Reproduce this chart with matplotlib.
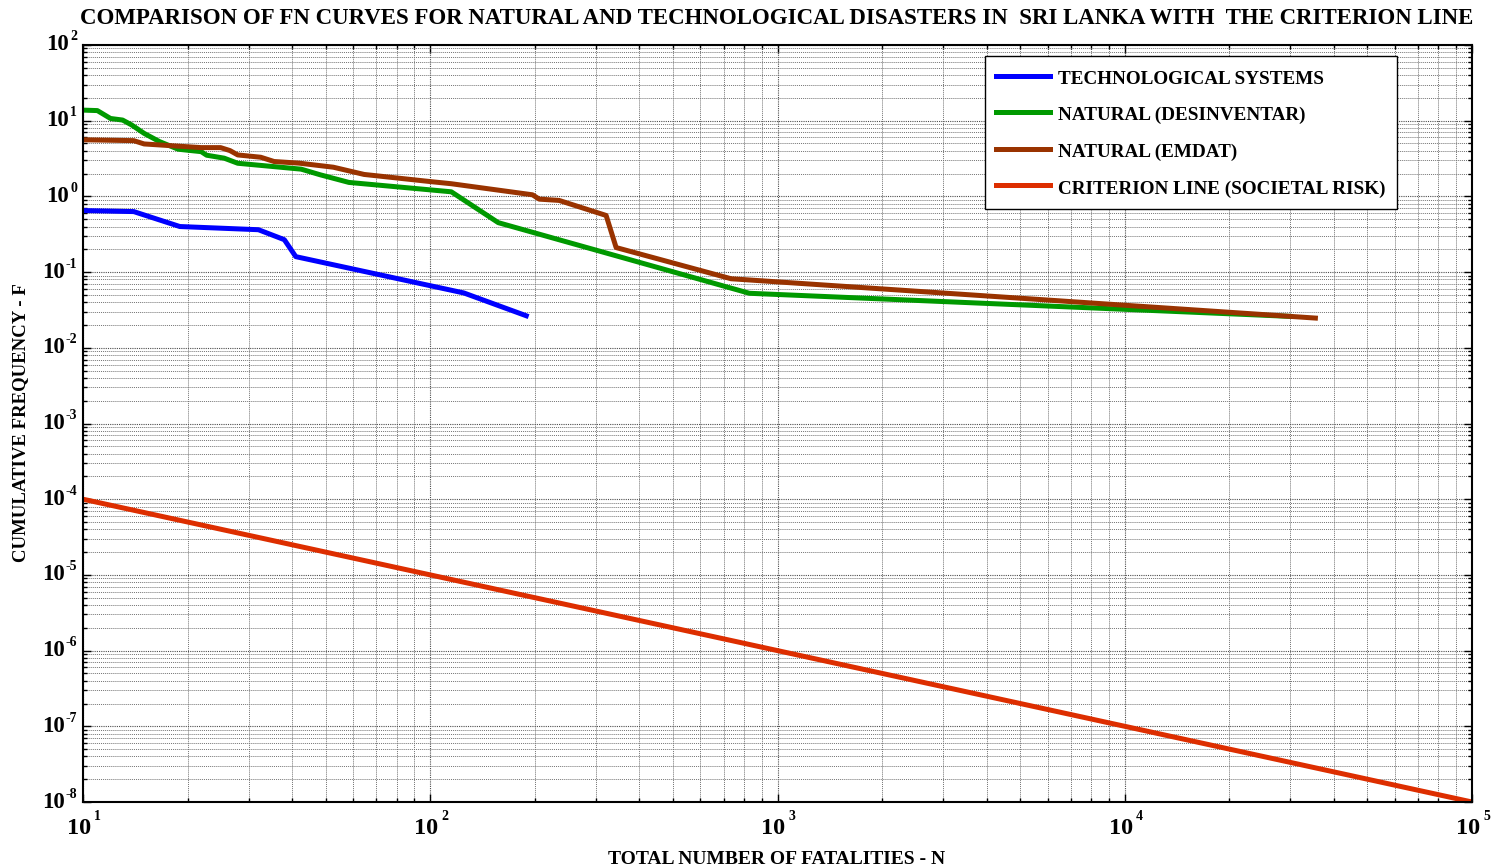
import matplotlib
matplotlib.use("Agg")
import matplotlib.pyplot as plt
from matplotlib.ticker import LogLocator, NullFormatter

plt.rcParams['font.family'] = ['Liberation Serif', 'DejaVu Serif']
plt.rcParams['font.weight'] = 'bold'

# ---- data ----
tech_N = [10, 14, 19, 32, 38, 41, 125, 189]
tech_F = [0.65, 0.63, 0.40, 0.363, 0.268, 0.16, 0.053, 0.0265]

desinv_N = [10, 11, 12, 13, 13.8, 15, 16.6, 18.8, 21.9, 22.7, 25.5, 27.9,
            42.5, 48.2, 58.3, 115, 157, 830, 30000]
desinv_F = [13.8, 13.6, 10.7, 10.2, 8.8, 6.8, 5.3, 4.2, 3.9, 3.5, 3.2, 2.74,
            2.29, 1.93, 1.53, 1.15, 0.45, 0.0525, 0.026]

emdat_N = [10, 14, 15, 21.9, 24.9, 26.5, 27.9, 32.5, 35.5, 41.9, 52.6, 64.5,
           100, 115, 197, 206, 235, 321, 343, 735, 35400]
emdat_F = [5.6, 5.45, 4.93, 4.41, 4.41, 4.03, 3.53, 3.29, 2.89, 2.75, 2.43, 1.95,
           1.57, 1.47, 1.05, 0.92, 0.885, 0.56, 0.211, 0.0817, 0.0247]

crit_N = [10, 100000]
crit_F = [1e-4, 1e-8]

x_exponents = [1, 2, 3, 4, 5]
y_exponents = [2, 1, 0, -1, -2, -3, -4, -5, -6, -7, -8]

labels = ['TECHNOLOGICAL SYSTEMS', 'NATURAL (DESINVENTAR)',
          'NATURAL (EMDAT)', 'CRITERION LINE (SOCIETAL RISK)']
colors = ['#0000FF', '#009900', '#993300', '#DD2E00']

title = 'COMPARISON OF FN CURVES FOR NATURAL AND TECHNOLOGICAL DISASTERS IN  SRI LANKA WITH  THE CRITERION LINE'
xlabel = 'TOTAL NUMBER OF FATALITIES - N'
ylabel = 'CUMULATIVE FREQUENCY - F'

fig = plt.figure(figsize=(14.99, 8.67), dpi=100)
ax = fig.add_axes([83/1499, 1-802/867, (1472-83)/1499, (802-45)/867])

lw = 3.6
ax.plot(tech_N, tech_F, color=colors[0], lw=lw, label=labels[0])
ax.plot(desinv_N, desinv_F, color=colors[1], lw=lw, label=labels[1])
ax.plot(emdat_N, emdat_F, color=colors[2], lw=lw, label=labels[2])
ax.plot(crit_N, crit_F, color=colors[3], lw=lw, label=labels[3])

ax.set_xscale('log')
ax.set_yscale('log')
ax.set_xlim(10, 1e5)
ax.set_ylim(1e-8, 1e2)

ax.xaxis.set_major_locator(LogLocator(base=10, numticks=20))
ax.yaxis.set_major_locator(LogLocator(base=10, numticks=20))
ax.xaxis.set_minor_locator(LogLocator(base=10, subs=range(2, 10), numticks=50))
ax.yaxis.set_minor_locator(LogLocator(base=10, subs=range(2, 10), numticks=50))
ax.xaxis.set_minor_formatter(NullFormatter())
ax.yaxis.set_minor_formatter(NullFormatter())

ax.grid(True, which='major', color='0.3', lw=0.8, ls=(0, (1, 1)))
ax.grid(True, which='minor', color='0.45', lw=0.7, ls=(0, (1, 1)))
ax.set_axisbelow(True)

ax.tick_params(which='both', direction='in', top=True, right=True, width=1.0,
               labelbottom=False, labelleft=False)
ax.tick_params(which='major', length=6)
ax.tick_params(which='minor', length=3)
for s in ax.spines.values():
    s.set_linewidth(1.5)

# MATLAB-style tick labels: "10" with a small raised exponent
for e in x_exponents:
    v = 10.0 ** e
    ax.annotate('10', xy=(v, 0), xycoords=('data', 'axes fraction'),
                xytext=(8, -27), textcoords='offset pixels', ha='right', va='center',
                fontsize=17.5, fontweight='bold', annotation_clip=False)
    ax.annotate(str(e), xy=(v, 0), xycoords=('data', 'axes fraction'),
                xytext=(11, -15), textcoords='offset pixels', ha='left', va='center',
                fontsize=10, fontweight='bold', annotation_clip=False)
for e in y_exponents:
    v = 10.0 ** e
    ex = ax.annotate(str(e), xy=(0, v), xycoords=('axes fraction', 'data'),
                     xytext=(-6, 8), textcoords='offset pixels', ha='right', va='center',
                     fontsize=10, fontweight='bold', annotation_clip=False)
    ax.annotate('10', xy=(0, 0.5), xycoords=ex,
                xytext=(-1, -8), textcoords='offset pixels', ha='right', va='center',
                fontsize=16.5, fontweight='bold', annotation_clip=False)

fig.text(777/1499, 1-859/867, xlabel, fontsize=14, fontweight='bold',
         ha='center', va='center')
fig.text(21/1499, 1-423/867, ylabel, fontsize=13.5, fontweight='bold',
         ha='center', va='center', rotation=90)
fig.text(777/1499, 1-18/867, title, fontsize=16.5, fontweight='bold',
         ha='center', va='center')

leg = ax.legend(loc='upper right', bbox_to_anchor=(1397/1499, 1-56/867),
                bbox_transform=fig.transFigure, fontsize=13.8, frameon=True,
                fancybox=False, edgecolor='black', framealpha=1, borderaxespad=0,
                handlelength=2.8, handleheight=1.17, labelspacing=0.86,
                borderpad=0.6, handletextpad=0.42)
leg.get_frame().set_linewidth(1.0)
for t in leg.get_texts():
    t.set_fontweight('bold')

fig.savefig('out.png', dpi=100)
